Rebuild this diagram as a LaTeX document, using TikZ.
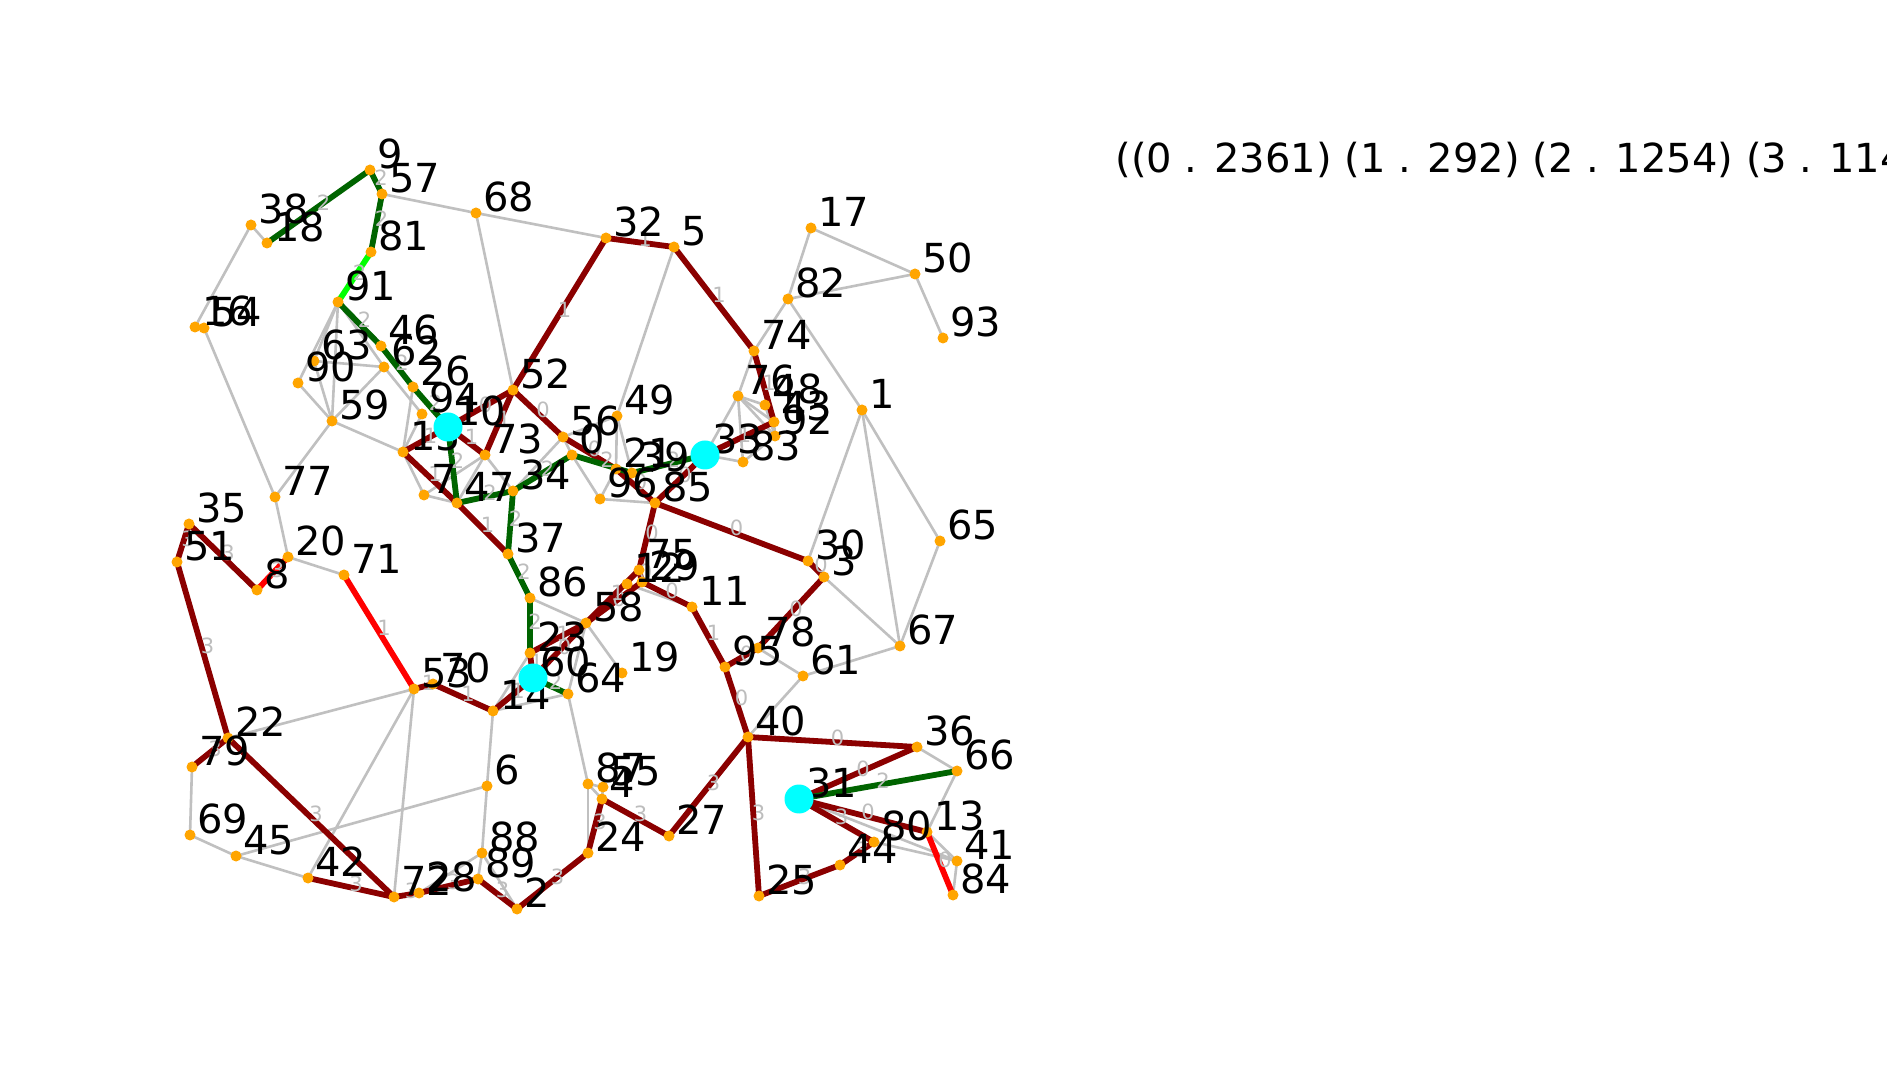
\documentclass[tikz,border=0pt]{standalone}
\usepackage{fontspec}
\setmainfont{DejaVu Sans}
\definecolor{dred}{HTML}{8B0000}
\definecolor{dgreen}{HTML}{006400}
\definecolor{lgreen}{HTML}{00FF00}
\definecolor{brred}{HTML}{FF0000}
\definecolor{edgegray}{HTML}{C0C0C0}
\definecolor{labgray}{HTML}{BDBDBD}
\definecolor{dotorange}{HTML}{FFA500}
\definecolor{hub}{HTML}{00FFFF}
\begin{document}
\begin{tikzpicture}[x=0.5pt,y=-0.5pt,
  ge/.style={draw=edgegray,line width=1.3pt},
  rde/.style={draw=dred,line width=2.9pt},
  bre/.style={draw=brred,line width=2.9pt},
  dge/.style={draw=dgreen,line width=2.9pt},
  lge/.style={draw=lgreen,line width=2.9pt},
  elab/.style={font=\fontsize{10.5}{10.5}\selectfont,text=labgray,inner sep=0pt,xshift=2.5pt,yshift=2pt},
  dot/.style={circle,fill=dotorange,inner sep=0pt,minimum size=5.5pt},
  hubnode/.style={circle,fill=hub,inner sep=0pt,minimum size=14.5pt},
  lab/.style={font=\fontsize{20}{20}\selectfont,anchor=base west,inner sep=0pt}
]
\fill[white] (0,0) rectangle (1887,1080);
\useasboundingbox (0,0) rectangle (1887,1080);
% node positions
\foreach \i/\x/\y in {0/572/455,1/862/410,2/517/909,3/824/577,4/602/799,5/674/247,6/487/786,7/424/495,8/257/590,9/370/170,
10/448/427,11/692/607,12/627/584,13/927/832,14/493/711,15/403/452,16/195/327,17/811/228,18/267/243,19/622/673,
20/288/557,21/616/469,22/228/738,23/530/653,24/588/853,25/759/896,26/413/387,27/669/836,28/419/893,29/642/582,
30/808/561,31/799/799,32/606/238,33/705/455,34/513/491,35/189/524,36/917/747,37/508/554,38/251/225,39/632/473,
40/748/737,41/957/861,42/308/878,43/774/422,44/840/865,45/236/856,46/381/346,47/457/503,48/765/405,49/617/416,
50/915/274,51/177/562,52/513/390,53/414/689,54/204/328,55/603/787,56/563/437,57/382/194,58/586/623,59/332/421,
60/533/678,61/803/676,62/384/367,63/314/361,64/568/694,65/940/541,66/957/771,67/900/646,68/476/213,69/190/835,
70/433/684,71/344/575,72/394/897,73/485/455,74/754/351,75/639/570,76/738/396,77/275/497,78/758/648,79/192/767,
80/874/842,81/371/252,82/788/299,83/743/462,84/953/895,85/655/503,86/530/598,87/588/784,88/482/853,89/478/879,
90/298/383,91/338/302,92/775/436,93/943/338,94/422/414,95/725/667,96/600/499}
  \coordinate (n\i) at (\x,\y);
% gray edges
\foreach \a/\b in {57/68,68/32,68/52,38/18,38/16,54/77,5/49,
17/82,17/50,82/50,50/93,82/74,82/1,74/76,
76/33,76/48,76/43,76/92,76/83,48/92,43/92,92/83,33/83,
1/30,1/67,1/65,65/67,3/67,61/67,40/61,78/61,
36/66,66/13,13/41,41/84,31/41,80/41,
91/90,91/63,91/59,91/62,63/62,63/59,90/59,62/59,59/15,59/77,77/20,20/71,
62/94,26/15,94/15,15/7,7/47,7/73,73/47,73/34,34/56,56/0,0/96,96/21,96/85,56/49,49/21,49/39,
86/58,58/19,58/64,14/64,14/6,14/23,64/87,87/24,87/55,87/4,55/4,
6/45,6/88,88/2,88/28,88/89,
53/22,53/42,53/72,79/69,69/45,45/42,12/11,12/75}
  \draw[ge] (n\a) -- (n\b);
% dark red edges
\foreach \a/\b/\l in {32/52/1,32/5/1,5/74/1,74/43/1,33/43/1,
52/10/0,52/73/1,10/73/1,10/15/1,15/47/1,47/37/1,
52/56/0,56/21/0,21/85/0,85/33/0,85/30/0,30/3/0,3/78/0,78/95/0,95/40/0,11/95/1,29/11/0,85/75/0,75/29/0,
58/29/0,58/75/1,23/58/1,58/60/0,23/60/1,60/14/1,14/70/1,70/53/1,
40/36/0,31/36/0,31/13/0,31/80/3,80/44/3,44/25/3,40/25/3,40/27/3,27/4/3,4/24/3,24/2/3,2/89/3,89/28/3,
28/72/3,72/42/3,22/72/3,22/79/3,51/22/3,35/51/3,35/8/3}
  \draw[rde] (n\a) -- node[elab]{\l} (n\b);
% bright red edges
\foreach \a/\b/\l in {71/53/1,8/20/3,13/84/0}
  \draw[bre] (n\a) -- node[elab]{\l} (n\b);
% dark green edges
\foreach \a/\b/\l in {9/18/2,9/57/2,57/81/2,91/46/2,46/26/2,26/10/2,10/47/2,47/34/2,34/0/2,0/39/2,39/33/2,
34/37/2,37/86/2,86/23/2,60/64/2,31/66/2}
  \draw[dge] (n\a) -- node[elab]{\l} (n\b);
\draw[lge] (n81) -- node[elab]{2} (n91);
% dots and labels
\foreach \i in {0,...,96}
  \node[dot] (d\i) at (n\i) {};
\foreach \i in {0,...,96}
  \node[lab] (t\i) at ([shift={(7,-1.5)}]n\i) {\i};
\foreach \i in {10,31,33,60}
  \node[hubnode] (h\i) at (n\i) {};
\node[lab] (legend) at (1115,173) {((0 . 2361) (1 . 292) (2 . 1254) (3 . 114};
\end{tikzpicture}
\end{document}
